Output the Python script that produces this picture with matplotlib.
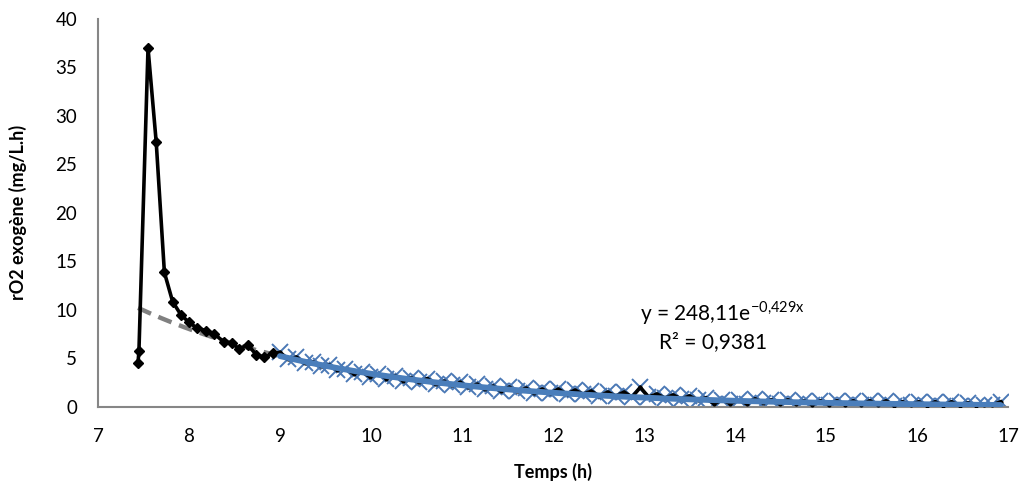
import numpy as np
import matplotlib
matplotlib.use("Agg")
import matplotlib.pyplot as plt

plt.rcParams['font.family'] = ['Lato', 'DejaVu Sans']

# Early phase (pulse response), time in h and exogenous OUR in mg/L.h
t_early = [7.44, 7.45, 7.55, 7.64, 7.73, 7.82, 7.91, 8.00, 8.09, 8.19,
           8.28, 8.38, 8.47, 8.55, 8.65, 8.74, 8.83, 8.92]
r_early = [4.55, 5.7, 37.0, 27.3, 13.85, 10.85, 9.5, 8.7, 8.1, 7.85,
           7.5, 6.7, 6.55, 6.0, 6.35, 5.35, 5.1, 5.5]

# Decay phase used for the exponential fit
t_decay = [9.00, 9.09, 9.18, 9.27, 9.36, 9.45, 9.54, 9.63, 9.72, 9.81,
           9.90, 9.99, 10.08, 10.17, 10.26, 10.35, 10.44, 10.53, 10.62, 10.71,
           10.80, 10.89, 10.98, 11.07, 11.16, 11.25, 11.34, 11.43, 11.52, 11.61,
           11.70, 11.79, 11.88, 11.97, 12.06, 12.15, 12.24, 12.33, 12.42, 12.51,
           12.60, 12.69, 12.78, 12.87, 12.96, 13.05, 13.14, 13.23, 13.32, 13.41,
           13.50, 13.59, 13.68, 13.77, 13.86, 13.95, 14.04, 14.13, 14.22, 14.31,
           14.40, 14.49, 14.58, 14.67, 14.76, 14.85, 14.94, 15.03, 15.12, 15.21,
           15.30, 15.39, 15.48, 15.57, 15.66, 15.75, 15.84, 15.93, 16.02, 16.11,
           16.20, 16.29, 16.38, 16.47, 16.56, 16.65, 16.74, 16.83, 16.92]
r_decay = [5.6, 4.9, 5.1, 4.5, 4.6, 4.2, 4.3, 3.8, 3.9, 3.4,
           3.6, 3.1, 3.4, 2.9, 3.2, 2.7, 3.0, 2.5, 2.9, 2.3,
           2.6, 2.2, 2.5, 2.0, 2.3, 1.8, 2.1, 1.6, 2.0, 1.6,
           1.9, 1.4, 1.8, 1.4, 1.8, 1.3, 1.7, 1.3, 1.6, 1.1,
           1.5, 1.1, 1.5, 1.0, 2.0, 1.0, 1.3, 0.9, 1.2, 0.8,
           1.1, 0.7, 0.9, 0.3, 0.7, 0.3, 0.7, 0.3, 0.8, 0.4,
           0.7, 0.3, 0.7, 0.3, 0.6, 0.2, 0.6, 0.2, 0.6, 0.2,
           0.6, 0.2, 0.6, 0.2, 0.6, 0.1, 0.5, 0.2, 0.5, 0.1,
           0.5, 0.1, 0.5, 0.1, 0.4, 0.1, 0.2, 0.2, 0.5]

# Exponential trend y = a * exp(b * x)
fit_a = 248.11
fit_b = -0.429
fit_r2 = 0.9381

x_ticks = [7, 8, 9, 10, 11, 12, 13, 14, 15, 16, 17]
y_ticks = [0, 5, 10, 15, 20, 25, 30, 35, 40]

fig = plt.figure(figsize=(10.27, 4.95), dpi=100)
ax = fig.add_axes([0.0954, 0.1784, 0.886, 0.7832])

t_all = np.array(t_early + t_decay)
r_all = np.array(r_early + r_decay)

# trend curve over the whole record (dashed grey)
xt_full = np.linspace(t_early[0], t_decay[-1], 300)
ax.plot(xt_full, fit_a * np.exp(fit_b * xt_full), color='#808080', lw=3.2,
        dashes=(3.2, 1.8), zorder=1, solid_capstyle='butt')

# decay points (x markers)
ax.plot(t_decay, r_decay, ls='none', marker='x', ms=12, mew=1.4,
        color='#4a78b5', zorder=2)

# measured profile
ax.plot(t_all, r_all, color='black', lw=2.6, zorder=3)
ax.plot(t_early, r_early, ls='none', marker='D', ms=5.5, color='black', zorder=4)
ax.plot(t_decay, r_decay, ls='none', marker='o', ms=2, color='black', zorder=4)

# fitted curve over the decay phase
xt_dec = np.linspace(t_decay[0], t_decay[-1], 300)
ax.plot(xt_dec, fit_a * np.exp(fit_b * xt_dec), color='#4a7ebb', lw=4.2,
        zorder=5, solid_capstyle='round')

ax.set_xlim(7, 17)
ax.set_ylim(0, 40)
ax.set_xticks(x_ticks)
ax.set_yticks(y_ticks)
ax.tick_params(axis='both', length=0, labelsize=13.5)
ax.tick_params(axis='y', pad=15)
ax.tick_params(axis='x', pad=15)
for s in ['top', 'right']:
    ax.spines[s].set_visible(False)
for s in ['left', 'bottom']:
    ax.spines[s].set_color('#868686')
    ax.spines[s].set_linewidth(1.5)

ax.set_xlabel('Temps (h)', fontsize=13, fontweight='bold', labelpad=13)
ax.set_ylabel('rO2 exogène (mg/L.h)', fontsize=13, fontweight='bold', labelpad=20)

a_txt = str(fit_a).replace('.', ',')
b_txt = str(fit_b).replace('.', '{,}')
eq = 'y = ' + a_txt + 'e$^{\\mathregular{' + b_txt + 'x}}$'
fig.text(0.703, 0.368, eq, fontsize=15, ha='center', va='center')
fig.text(0.694, 0.309, 'R² = {}'.format(str(fit_r2).replace('.', ',')),
         fontsize=15, ha='center', va='center')

fig.savefig('out.png', dpi=100)
